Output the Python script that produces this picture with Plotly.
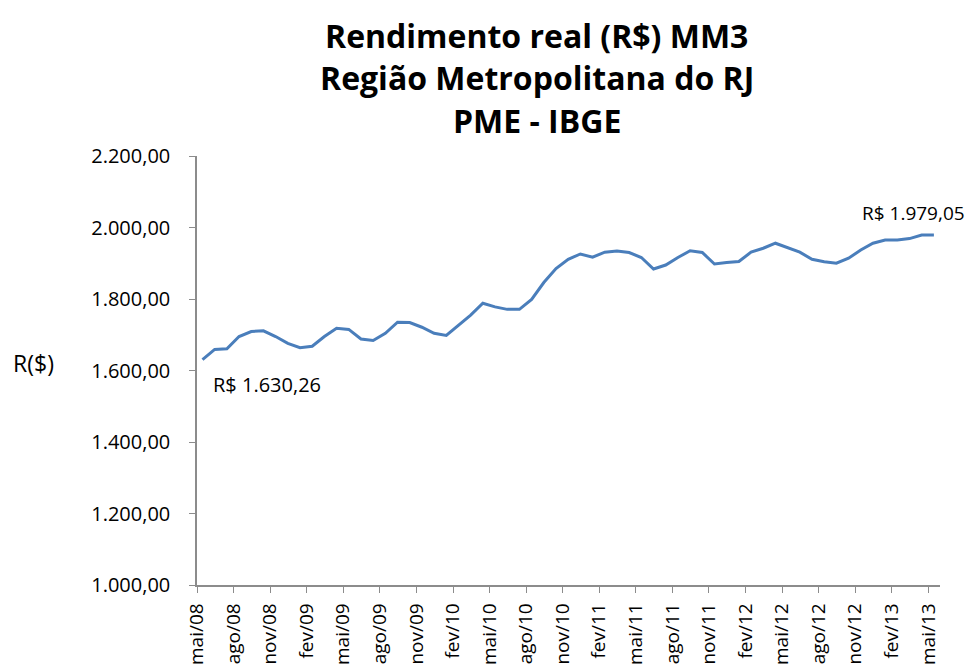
import plotly.graph_objects as go

meses = ["jan", "fev", "mar", "abr", "mai", "jun", "jul", "ago", "set", "out", "nov", "dez"]
periodos = []
m, a = 4, 8
for _ in range(61):
    periodos.append(f"{meses[m]}/{a:02d}")
    m += 1
    if m == 12:
        m = 0
        a += 1

rendimento = [
    1630.26, 1659, 1661, 1695, 1709, 1711, 1695, 1676, 1664, 1668,
    1695, 1718, 1715, 1688, 1684, 1704, 1735, 1734, 1721, 1704,
    1698, 1727, 1755, 1788, 1778, 1771, 1771, 1799, 1846, 1885,
    1911, 1926, 1917, 1931, 1934, 1930, 1916, 1884, 1895, 1916,
    1935, 1930, 1898, 1902, 1905, 1931, 1942, 1956, 1944, 1931,
    1911, 1904, 1900, 1914, 1937, 1956, 1965, 1965, 1969, 1979,
    1979.05,
]

y_ticks = [1000, 1200, 1400, 1600, 1800, 2000, 2200]
y_labels = ["1.000,00", "1.200,00", "1.400,00", "1.600,00", "1.800,00", "2.000,00", "2.200,00"]

idx = list(range(len(rendimento)))
x_tickpos = [i - 0.45 for i in idx[::3]]
x_ticklabels = periodos[::3]

FONT = "'Open Sans', Lato, sans-serif"

fig = go.Figure()
fig.add_trace(go.Scatter(
    x=idx, y=rendimento, mode="lines",
    line=dict(color="#4A7EBB", width=3),
    hoverinfo="skip", showlegend=False,
))

fig.update_layout(
    width=973, height=664,
    margin=dict(l=189, r=41, t=148, b=87, autoexpand=False),
    paper_bgcolor="white", plot_bgcolor="white",
    font=dict(family=FONT, color="#000000", size=20),
    xaxis=dict(
        range=[-0.45, 60.5],
        tickmode="array", tickvals=x_tickpos, ticktext=x_ticklabels,
        tickangle=-90, showgrid=False, zeroline=False,
        showline=True, linecolor="#8C8C8C", linewidth=1.5,
        ticks="outside", ticklen=6, tickcolor="#8C8C8C",
        tickfont=dict(family=FONT, size=19, color="#000"),
        ticklabelstandoff=3,
    ),
    yaxis=dict(
        range=[1000, 2200],
        tickmode="array", tickvals=y_ticks, ticktext=y_labels,
        showgrid=False, zeroline=False,
        showline=True, linecolor="#8C8C8C", linewidth=1.5,
        ticks="outside", ticklen=6, tickcolor="#8C8C8C",
        tickfont=dict(family=FONT, size=20, color="#000"),
        ticklabelstandoff=15,
    ),
)

title_lines = ["Rendimento real (R$) MM3", "Região Metropolitana do RJ", "PME - IBGE"]
title_y = [1.2820, 1.1830, 1.0830]
for t, yy in zip(title_lines, title_y):
    fig.add_annotation(
        text=f"<b>{t}</b>", xref="paper", yref="paper", x=0.4576, y=yy,
        xanchor="center", yanchor="middle", showarrow=False,
        font=dict(family=FONT, size=32, color="#000"),
    )

fig.add_annotation(
    text="R($)", xref="paper", yref="paper", x=-0.2194, y=0.5175,
    xanchor="center", yanchor="middle", showarrow=False,
    font=dict(family=FONT, size=23, color="#000"),
)

fig.add_annotation(
    text="R$ 1.630,26", xref="x", yref="paper", x=idx[0], y=(585 - 384) / 429,
    xanchor="left", yanchor="middle", xshift=9, showarrow=False,
    font=dict(family=FONT, size=20, color="#000"),
)
fig.add_annotation(
    text="R$ 1.979,05", xref="x", yref="paper", x=idx[-1], y=(585 - 213) / 429,
    xanchor="left", yanchor="middle", xshift=-74, showarrow=False,
    font=dict(family=FONT, size=19, color="#000"),
)

fig.write_html("out.html")
